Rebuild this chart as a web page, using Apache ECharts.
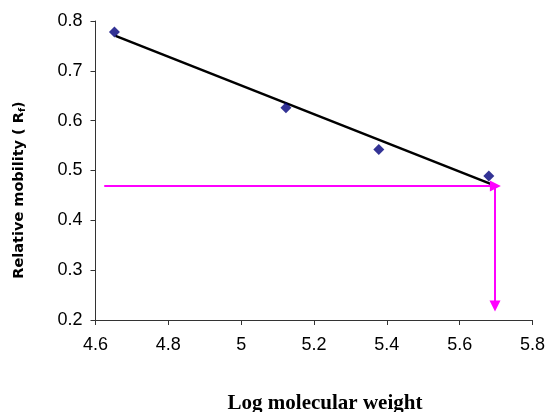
<!DOCTYPE html>
<html>
<head>
<meta charset="utf-8">
<script src="https://cdn.jsdelivr.net/npm/echarts@6/dist/echarts.min.js"></script>
<style>
  html, body { margin: 0; padding: 0; background: #fff; }
  #chart { width: 545px; height: 412px; }
</style>
</head>
<body>
<div id="chart"></div>
<script>
// measured points (log MW, Rf)
const logMW = [4.652, 5.123, 5.378, 5.680]
const rf = [0.778, 0.626, 0.542, 0.489]

// fitted trend line ends
const trendX = [4.655, 5.685]
const trendY = [0.770, 0.473]

// reading of unknown sample (magenta arrows)
const readStartX = 4.624
const readY = 0.469
const readX = 5.697
const readEndX = 5.698
const readBottomY = 0.228

const chart = echarts.init(document.getElementById('chart'))

const axisColor = '#333'

const option = {
  animation: false,
  grid: {
    left: 95.5,
    right: 12.5,
    top: 21,
    bottom: 92,
    outerBoundsMode: 'none',
    containLabel: false
  },
  xAxis: {
    type: 'value',
    min: 4.6,
    max: 5.8,
    interval: 0.2,
    splitLine: { show: false },
    axisLine: { lineStyle: { color: axisColor, width: 1 } },
    axisTick: { length: 5, lineStyle: { color: axisColor } },
    axisLabel: {
      color: '#000',
      fontFamily: 'Liberation Sans',
      fontSize: 18,
      margin: 16,
      formatter: v => String(Math.round(v * 10) / 10)
    },
    name: 'Log molecular weight',
    nameLocation: 'middle',
    nameGap: 73,
    nameTextStyle: {
      fontFamily: 'Liberation Serif',
      fontWeight: 'bold',
      fontSize: 21,
      color: '#000',
      padding: [0, 0, 0, 22]
    }
  },
  yAxis: {
    type: 'value',
    min: 0.2,
    max: 0.8,
    interval: 0.1,
    splitLine: { show: false },
    axisLine: { show: true, lineStyle: { color: axisColor, width: 1 } },
    axisTick: { show: true, length: 5, lineStyle: { color: axisColor } },
    axisLabel: {
      color: '#000',
      fontFamily: 'Liberation Sans',
      fontSize: 18,
      margin: 13,
      formatter: v => (Math.round(v * 10) / 10).toFixed(1)
    },
    name: 'Relative mobility ( R{sub|f})',
    nameLocation: 'middle',
    nameGap: 68,
    nameTextStyle: {
      fontFamily: 'DejaVu Sans',
      fontWeight: 'bold',
      fontSize: 14.5,
      color: '#000',
      padding: [0, 39, 0, 0],
      rich: {
        sub: {
          fontFamily: 'DejaVu Sans',
          fontWeight: 'bold',
          fontSize: 9.5,
          color: '#000',
          verticalAlign: 'bottom',
          padding: [6, 0, 0, 0]
        }
      }
    }
  },
  series: [
    {
      name: 'trend',
      type: 'line',
      data: trendX.map((x, i) => [x, trendY[i]]),
      symbol: 'none',
      lineStyle: { color: '#000', width: 2.5 },
      z: 2
    },
    {
      name: 'reading',
      type: 'line',
      data: [],
      markLine: {
        silent: true,
        symbol: ['none', 'triangle'],
        symbolSize: [11, 11],
        label: { show: false },
        lineStyle: { color: '#ff00ff', width: 2, type: 'solid' },
        data: [
          [{ coord: [readStartX, readY] }, { coord: [readEndX, readY] }],
          [{ coord: [readX, readY] }, { coord: [readX, readBottomY] }]
        ]
      },
      z: 1
    },
    {
      name: 'Rf',
      type: 'scatter',
      data: logMW.map((x, i) => [x, rf[i]]),
      symbol: 'diamond',
      symbolSize: 11,
      itemStyle: { color: '#00007a' },
      z: 3
    }
  ]
}

chart.setOption(option)
</script>
</body>
</html>
